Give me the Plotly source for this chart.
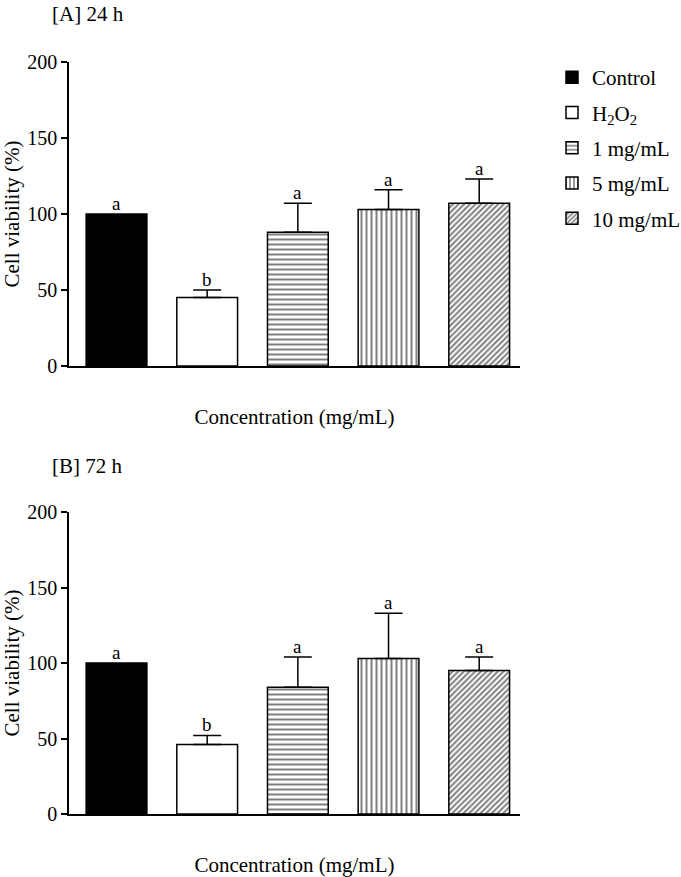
"""Cell viability bar charts (24 h and 72 h) with patterned bars."""

import plotly.graph_objects as go

groups = ["Control", "H2O2", "1 mg/mL", "5 mg/mL", "10 mg/mL"]
legend_names = ["Control", "H<sub>2</sub>O<sub>2</sub>", "1 mg/mL", "5 mg/mL", "10 mg/mL"]

viability_24h = [100, 45, 88, 103, 107]
error_24h = [0, 5, 19, 13, 16]
letters_24h = ["a", "b", "a", "a", "a"]

viability_72h = [100, 46, 84, 103, 95]
error_72h = [0, 6, 20, 30, 9]
letters_72h = ["a", "b", "a", "a", "a"]

y_ticks = [0, 50, 100, 150, 200]

W, H = 681, 877
FONT = "Liberation Serif, Times New Roman, serif"


def fx(px):
    return px / W


def fy(py):
    return 1 - py / H


styles = [
    dict(color="black", pattern=None),
    dict(color="white", pattern=None),
    dict(color="white", pattern=dict(shape="-", fgcolor="black", bgcolor="white", size=5, solidity=0.4)),
    dict(color="white", pattern=dict(shape="|", fgcolor="black", bgcolor="white", size=5, solidity=0.4)),
    dict(color="white", pattern=dict(shape="/", fgcolor="black", bgcolor="white", size=4, solidity=0.5)),
]

fig = go.Figure()

panels = [
    ("x", "y", viability_24h, error_24h, letters_24h, True),
    ("x2", "y2", viability_72h, error_72h, letters_72h, False),
]

for xref, yref, values, errors, letters, show_legend in panels:
    for i, grp in enumerate(groups):
        st = styles[i]
        marker = dict(color=st["color"], line=dict(color="black", width=1.5))
        if st["pattern"] is not None:
            marker["pattern"] = st["pattern"]
        fig.add_trace(
            go.Bar(
                x=[grp],
                y=[values[i]],
                name=legend_names[i],
                legendgroup=grp,
                showlegend=show_legend,
                width=0.67,
                marker=marker,
                error_y=dict(
                    type="data",
                    array=[errors[i]],
                    arrayminus=[0],
                    symmetric=False,
                    visible=errors[i] > 0,
                    color="black",
                    thickness=1.5,
                    width=14,
                ),
                xaxis=xref,
                yaxis=yref,
            )
        )
        fig.add_annotation(
            x=grp,
            y=values[i] + errors[i],
            xref=xref,
            yref=yref,
            text=letters[i],
            showarrow=False,
            yanchor="bottom",
            yshift=-2,
            font=dict(size=19, color="black", family=FONT),
        )

axis_common = dict(
    showline=True,
    linecolor="black",
    linewidth=1.5,
    showgrid=False,
    zeroline=False,
    automargin=False,
)


def x_axis(anchor):
    return dict(
        **axis_common,
        domain=[fx(69), fx(520)],
        type="category",
        categoryorder="array",
        categoryarray=groups,
        range=[-0.524, 4.45],
        showticklabels=False,
        ticks="",
        anchor=anchor,
        title=dict(text="Concentration (mg/mL)", standoff=43, font=dict(size=21)),
    )


def y_axis(anchor, top_px, bottom_px):
    return dict(
        **axis_common,
        domain=[fy(bottom_px), fy(top_px)],
        range=[0, 200],
        tickvals=y_ticks,
        ticks="outside",
        ticklen=6,
        tickwidth=1.5,
        tickcolor="black",
        tickfont=dict(size=20),
        anchor=anchor,
        title=dict(text="Cell viability (%)", standoff=6, font=dict(size=21)),
    )


fig.update_layout(
    xaxis=x_axis("y"),
    yaxis=y_axis("x", 62, 366),
    xaxis2=x_axis("y2"),
    yaxis2=y_axis("x2", 512, 814),
    barmode="overlay",
    width=W,
    height=H,
    margin=dict(l=0, r=0, t=0, b=0, autoexpand=False),
    paper_bgcolor="white",
    plot_bgcolor="white",
    font=dict(family=FONT, color="black", size=20),
    legend=dict(
        xref="container",
        yref="container",
        x=fx(552),
        y=fy(57),
        xanchor="left",
        yanchor="top",
        font=dict(size=21),
        tracegroupgap=5,
        bgcolor="rgba(0,0,0,0)",
    ),
)

fig.add_annotation(
    x=fx(50), y=fy(14), xref="paper", yref="paper",
    text="[A] 24 h", showarrow=False, xanchor="left", yanchor="middle",
    font=dict(size=21),
)
fig.add_annotation(
    x=fx(50), y=fy(466), xref="paper", yref="paper",
    text="[B] 72 h", showarrow=False, xanchor="left", yanchor="middle",
    font=dict(size=21),
)

# drop the default 8px body margin so the figure fills the window exactly
fig.write_html(
    "out.html",
    config={"displayModeBar": False},
    post_script="document.body.style.margin = '0';",
)
